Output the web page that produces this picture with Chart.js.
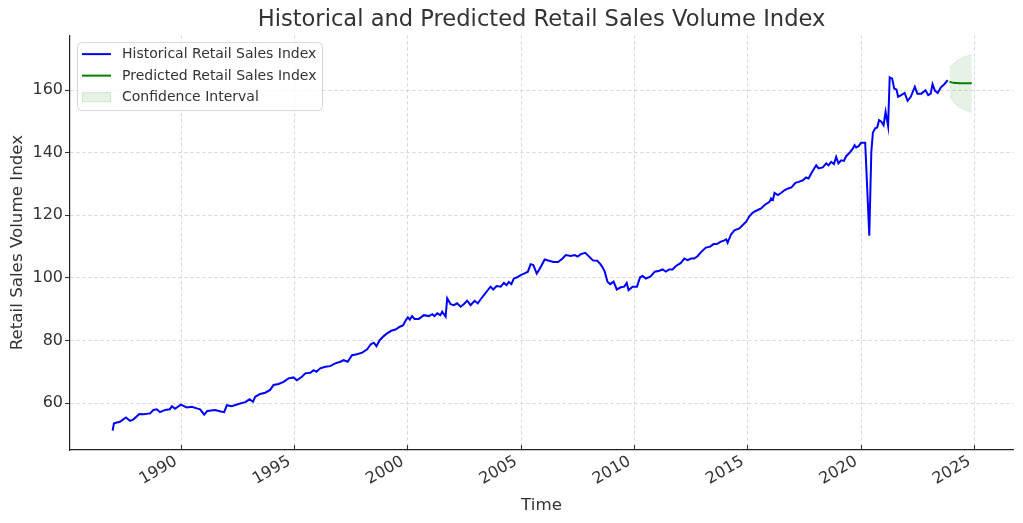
<!DOCTYPE html>
<html>
<head>
<meta charset="utf-8">
<script src="https://cdn.jsdelivr.net/npm/chart.js@4.4.1/dist/chart.umd.min.js"></script>
<style>
html,body{margin:0;padding:0;background:#fff;}
#wrap{width:1023px;height:523px;}
</style>
</head>
<body>
<div id="wrap"><canvas id="c" width="1023" height="523"></canvas></div>
<script>
// ---- Data ----
const histTime = [1986.98,1987.04,1987.3,1987.57,1987.75,1987.9,1988.16,1988.33,1988.63,1988.78,1988.93,1989.07,1989.3,1989.5,1989.6,1989.73,1989.99,1990.25,1990.47,1990.69,1990.84,1991.02,1991.16,1991.5,1991.75,1991.9,1992.02,1992.24,1992.53,1992.83,1993.02,1993.17,1993.27,1993.49,1993.71,1993.93,1994.08,1994.3,1994.52,1994.74,1994.96,1995.11,1995.33,1995.48,1995.7,1995.85,1995.97,1996.14,1996.36,1996.58,1996.8,1997.03,1997.17,1997.35,1997.54,1997.76,1997.99,1998.21,1998.37,1998.5,1998.62,1998.76,1998.94,1999.09,1999.27,1999.46,1999.65,1999.8,1999.9,2000.0,2000.09,2000.19,2000.3,2000.49,2000.71,2000.93,2001.08,2001.18,2001.3,2001.44,2001.52,2001.67,2001.74,2001.89,2002.03,2002.18,2002.33,2002.47,2002.62,2002.77,2002.95,2003.09,2003.21,2003.36,2003.51,2003.65,2003.77,2003.92,2004.1,2004.24,2004.36,2004.46,2004.57,2004.68,2004.83,2004.98,2005.13,2005.3,2005.42,2005.54,2005.69,2005.83,2006.04,2006.23,2006.43,2006.63,2006.83,2006.97,2007.19,2007.37,2007.49,2007.64,2007.83,2008.0,2008.17,2008.36,2008.49,2008.59,2008.69,2008.81,2008.93,2009.08,2009.22,2009.4,2009.55,2009.66,2009.74,2009.92,2010.11,2010.25,2010.36,2010.5,2010.7,2010.9,2011.1,2011.24,2011.39,2011.53,2011.68,2011.83,2012.05,2012.2,2012.35,2012.49,2012.64,2012.79,2012.96,2013.15,2013.34,2013.49,2013.64,2013.79,2013.94,2014.05,2014.11,2014.26,2014.41,2014.63,2014.78,2014.92,2015.07,2015.18,2015.27,2015.44,2015.59,2015.74,2015.96,2016.03,2016.11,2016.18,2016.33,2016.48,2016.63,2016.78,2016.93,2017.1,2017.25,2017.43,2017.57,2017.68,2017.8,2017.91,2018.02,2018.12,2018.31,2018.46,2018.56,2018.68,2018.8,2018.9,2019.0,2019.12,2019.24,2019.34,2019.49,2019.64,2019.71,2019.78,2019.89,2020.0,2020.18,2020.36,2020.45,2020.52,2020.62,2020.71,2020.79,2020.89,2020.99,2021.08,2021.19,2021.26,2021.37,2021.46,2021.56,2021.63,2021.77,2021.92,2022.05,2022.19,2022.37,2022.48,2022.66,2022.84,2022.96,2023.07,2023.15,2023.26,2023.38,2023.52,2023.67,2023.82];
const histIndex = [51.2,53.5,54.0,55.4,54.3,54.8,56.5,56.4,56.7,57.8,58.0,57.1,57.8,58.0,59.0,58.2,59.5,58.6,58.8,58.3,58.0,56.3,57.5,57.8,57.3,57.1,59.3,59.0,59.7,60.3,61.2,60.4,62.0,62.9,63.3,64.2,65.8,66.1,66.8,67.9,68.2,67.3,68.4,69.5,69.7,70.5,70.0,71.1,71.6,71.8,72.7,73.2,73.7,73.2,75.3,75.6,76.1,77.2,78.8,79.3,78.2,80.1,81.4,82.3,83.1,83.5,84.4,84.9,86.3,87.4,86.7,87.8,86.9,86.9,88.1,87.8,88.4,87.8,88.7,88.1,89.2,87.6,93.5,91.6,91.3,91.9,90.8,91.6,92.7,91.3,92.7,91.9,93.1,94.5,95.9,97.2,96.3,97.4,97.2,98.4,97.7,98.7,98.0,99.8,100.2,100.9,101.4,102.0,104.4,104.1,101.4,103.0,105.9,105.5,105.1,105.1,106.2,107.3,107.0,107.3,106.8,107.6,108.0,106.8,105.6,105.5,104.5,103.4,102.0,98.8,98.0,98.8,96.3,97.0,97.2,98.4,96.1,97.2,97.2,100.2,100.6,99.8,100.4,102.0,102.3,102.7,102.0,102.7,102.7,103.8,104.8,106.2,105.7,106.2,106.2,107.0,108.4,109.7,110.0,110.8,110.8,111.5,111.9,112.3,111.2,113.9,115.2,115.8,116.9,117.9,119.7,120.6,121.1,121.7,122.2,123.3,124.3,125.4,124.9,127.2,126.5,127.2,128.1,128.6,128.9,130.4,130.7,131.2,132.1,131.8,133.4,134.7,136.0,135.0,135.3,136.6,136.0,137.1,136.4,138.7,136.6,137.6,137.4,138.9,140.0,141.4,142.4,141.7,142.1,143.2,143.2,113.5,140.3,146.5,147.8,148.1,150.4,149.9,148.8,153.1,148.5,164.1,163.7,160.5,160.2,157.9,158.4,159.1,156.6,157.9,161.1,158.9,158.9,160.0,158.4,158.9,161.9,159.8,159.1,160.9,161.9,163.2];

const predTime  = [2023.90,2023.99,2024.08,2024.17,2024.25,2024.34,2024.43,2024.52,2024.61,2024.70,2024.79,2024.88];
const predIndex = [162.7,162.5,162.4,162.3,162.3,162.2,162.2,162.2,162.2,162.2,162.2,162.2];
const ciUpper   = [167.0,167.9,168.5,169.0,169.5,169.8,170.2,170.5,170.8,171.0,171.2,171.4];
const ciLower   = [158.4,157.1,156.3,155.6,155.1,154.6,154.2,153.9,153.6,153.4,153.2,153.0];

const xTicks = [1990,1995,2000,2005,2010,2015,2020,2025];
const yTicks = [60,80,100,120,140,160];

const titleText = 'Historical and Predicted Retail Sales Volume Index';
const xLabel = 'Time';
const yLabel = 'Retail Sales Volume Index';
const seriesLabels = ['Historical Retail Sales Index','Predicted Retail Sales Index','Confidence Interval'];

// ---- Build ----
const pts = (xs, ys) => xs.map((x, i) => ({x: x, y: ys[i]}));
const FONT = "'DejaVu Sans', 'Liberation Sans', sans-serif";
const TXT = '#333333';
const GRID = '#d0d0d0';
const DASH = [3.5, 2.5];

const legendPlugin = {
  id: 'insideLegend',
  afterDraw(chart) {
    const ctx = chart.ctx;
    const a = chart.chartArea;
    const bx = a.left + 7, by = a.top + 7, bw = 245, bh = 68;
    ctx.save();
    ctx.beginPath();
    if (ctx.roundRect) ctx.roundRect(bx + 0.5, by + 0.5, bw, bh, 4); else ctx.rect(bx + 0.5, by + 0.5, bw, bh);
    ctx.fillStyle = 'rgba(255,255,255,0.8)';
    ctx.fill();
    ctx.strokeStyle = '#d6d6d6';
    ctx.lineWidth = 1;
    ctx.stroke();
    const ds = chart.data.datasets;
    const items = [
      {type: 'line', color: ds[0].borderColor, label: seriesLabels[0]},
      {type: 'line', color: ds[1].borderColor, label: seriesLabels[1]},
      {type: 'patch', color: ds[2].backgroundColor, label: seriesLabels[2]}
    ];
    ctx.font = '14px ' + FONT;
    ctx.textBaseline = 'middle';
    ctx.textAlign = 'left';
    items.forEach((it, i) => {
      const cy = by + 12 + i * 21.5;
      if (it.type === 'line') {
        ctx.strokeStyle = it.color;
        ctx.lineWidth = 2;
        ctx.beginPath();
        ctx.moveTo(bx + 5, cy);
        ctx.lineTo(bx + 34, cy);
        ctx.stroke();
      } else {
        ctx.fillStyle = it.color;
        ctx.fillRect(bx + 5, cy - 5, 29, 10);
        ctx.strokeStyle = 'rgba(0,128,0,0.1)';
        ctx.lineWidth = 1;
        ctx.strokeRect(bx + 5.5, cy - 4.5, 28, 9);
      }
      ctx.fillStyle = TXT;
      ctx.fillText(it.label, bx + 45, cy + 0.5);
    });
    ctx.restore();
  }
};

new Chart(document.getElementById('c'), {
  type: 'line',
  data: {
    datasets: [
      {label: seriesLabels[0], data: pts(histTime, histIndex), borderColor: '#0000ff', borderWidth: 2, pointRadius: 0, fill: false, tension: 0},
      {label: seriesLabels[1], data: pts(predTime, predIndex), borderColor: '#008000', borderWidth: 2, pointRadius: 0, fill: false, tension: 0},
      {label: seriesLabels[2], data: pts(predTime, ciUpper), borderColor: 'rgba(0,128,0,0.12)', backgroundColor: 'rgba(0,128,0,0.1)', borderWidth: 1, pointRadius: 0, fill: '+1', tension: 0},
      {label: 'ci-lower', data: pts(predTime, ciLower), borderColor: 'rgba(0,128,0,0.12)', backgroundColor: 'rgba(0,128,0,0.1)', borderWidth: 1, pointRadius: 0, fill: false, tension: 0}
    ]
  },
  options: {
    responsive: false,
    animation: false,
    devicePixelRatio: 1,
    layout: {padding: {left: 0, right: 10, top: 0, bottom: 0}},
    plugins: {
      legend: {display: false},
      tooltip: {enabled: false},
      title: {display: true, fullSize: false, text: titleText, color: TXT, font: {family: FONT, size: 22.6, weight: 'normal'}, padding: {top: 7, bottom: 1}}
    },
    scales: {
      x: {
        type: 'linear', min: 1985.1, max: 2026.7,
        afterBuildTicks: s => { s.ticks = xTicks.map(v => ({value: v})); },
        afterFit: s => { s.height = 73; },
        ticks: {autoSkip: false, minRotation: 30, maxRotation: 30, color: TXT, font: {family: FONT, size: 16}, padding: 7, labelOffset: -5, callback: v => String(v)},
        grid: {color: GRID, lineWidth: 0.8, tickLength: -5, tickColor: '#333', tickWidth: 1.1, tickBorderDash: []},
        border: {display: true, color: '#222', width: 1.2, dash: DASH},
        title: {display: true, text: xLabel, color: TXT, font: {family: FONT, size: 16.7}, padding: {top: 0, bottom: 7}}
      },
      y: {
        type: 'linear', min: 45, max: 177.6,
        afterBuildTicks: s => { s.ticks = yTicks.map(v => ({value: v})); },
        afterFit: s => { s.width = 70; },
        ticks: {color: TXT, font: {family: FONT, size: 16}, padding: 2, callback: v => String(v)},
        grid: {color: GRID, lineWidth: 0.8, tickLength: 5, tickColor: '#333', tickWidth: 1.1, tickBorderDash: []},
        border: {display: true, color: '#222', width: 1.2, dash: DASH},
        title: {display: true, text: yLabel, color: TXT, font: {family: FONT, size: 16.7}, padding: {top: 8, bottom: 0}}
      }
    }
  },
  plugins: [legendPlugin]
});
</script>
</body>
</html>
